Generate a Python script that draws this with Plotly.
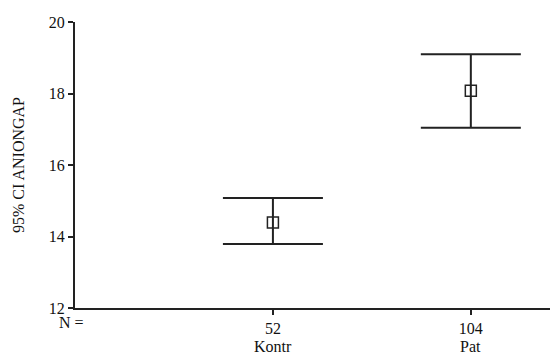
import plotly.graph_objects as go

groups = ["Kontr", "Pat"]
n_values = ["52", "104"]
means = [14.39, 18.08]
ci_lower = [13.79, 17.04]
ci_upper = [15.08, 19.10]
y_ticks = [12, 14, 16, 18, 20]

xpos = list(range(len(groups)))
err_plus = [u - m for u, m in zip(ci_upper, means)]
err_minus = [m - l for m, l in zip(means, ci_lower)]

font_family = "Liberation Serif, Times New Roman, serif"
txt = dict(family=font_family, size=16, color="#111")

fig = go.Figure()
fig.add_trace(go.Scatter(
    x=xpos, y=means, mode="markers",
    marker=dict(symbol="square-open", size=11, color="#222", line=dict(width=1.5, color="#222")),
    error_y=dict(type="data", symmetric=False, array=err_plus, arrayminus=err_minus,
                 width=50, thickness=2, color="#222"),
    showlegend=False, hoverinfo="skip",
))

for xp, g in zip(xpos, groups):
    fig.add_annotation(x=xp, xref="x", y=0, yref="paper", text=g, showarrow=False,
                       yanchor="top", yshift=-28, font=txt)
fig.add_annotation(x=0, xref="paper", y=0, yref="paper", text="N =", showarrow=False,
                   yanchor="top", xanchor="center", xshift=-4, yshift=-4, font=txt)

fig.update_layout(
    width=550, height=363,
    margin=dict(l=75, r=0, t=22, b=55),
    paper_bgcolor="white", plot_bgcolor="white",
    font=txt,
    xaxis=dict(range=[-1, 1.4], tickvals=xpos, ticktext=n_values,
               showline=True, linecolor="#222", linewidth=2, ticks="outside",
               ticklen=5, tickwidth=1.5, tickcolor="#222", showgrid=False, zeroline=False,
               tickfont=txt, automargin=False),
    yaxis=dict(range=[12, 20], tickvals=y_ticks, showline=True, linecolor="#222", linewidth=2,
               ticks="outside", ticklen=5, tickwidth=1.5, tickcolor="#222",
               showgrid=False, zeroline=False, tickfont=txt, automargin=False,
               title=dict(text="95% CI ANIONGAP", standoff=20, font=txt)),
)

fig.write_html("out.html", config={"displayModeBar": False})
